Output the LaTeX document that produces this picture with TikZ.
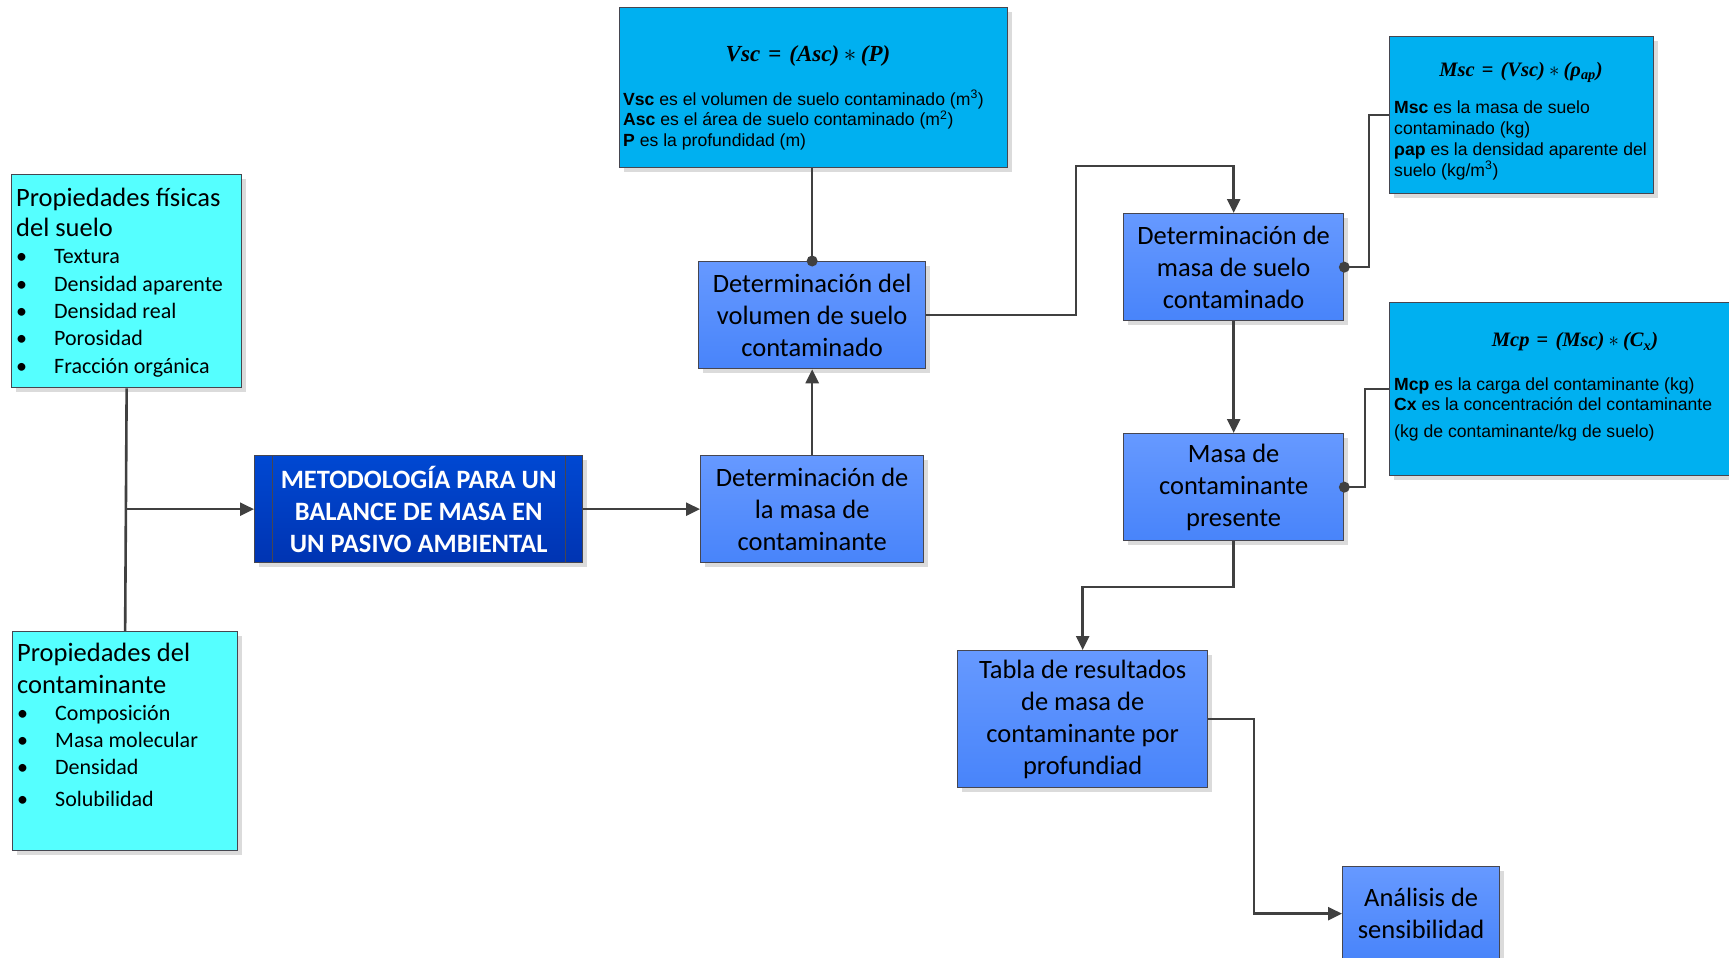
\documentclass[tikz,border=0pt]{standalone}
\usepackage{fontspec}
\setmainfont{Carlito}
\newfontfamily\arialf{Liberation Sans}
\newfontfamily\cambf{Liberation Serif}
\usetikzlibrary{arrows.meta,shadows}
\definecolor{cy}{RGB}{85,255,255}
\definecolor{fb}{RGB}{0,176,240}
\definecolor{bt}{RGB}{102,153,255}
\definecolor{bb}{RGB}{72,132,250}
\definecolor{dt}{RGB}{0,72,210}
\definecolor{db}{RGB}{0,52,178}
\definecolor{ln}{RGB}{64,64,64}
\definecolor{bd}{RGB}{70,70,80}
\tikzset{
  box/.style={draw=bd, line width=1.3pt, anchor=north west, inner sep=0pt,
    drop shadow={shadow xshift=4pt, shadow yshift=-4pt, fill=black!14, opacity=1}},
  cybox/.style={box, fill=cy},
  fbox/.style={box, fill=fb},
  bbox/.style={box, top color=bt, bottom color=bb, align=center, font=\fontsize{26.5}{32}\selectfont},
  dbox/.style={box, top color=dt, bottom color=db, align=center, text=white, font=\bfseries\fontsize{26.5}{32}\selectfont},
  conn/.style={draw=ln, line width=2.6pt},
  arr/.style={conn, -{Triangle[length=14pt,width=13pt]}},
  arialtxt/.style={anchor=base west, inner sep=0pt, align=left, font=\arialf\fontsize{17.6}{20.5}\selectfont},
  formula/.style={inner sep=0pt, anchor=center, font=\cambf\bfseries\itshape\fontsize{20.5}{24}\selectfont},
  titletxt/.style={anchor=base west, inner sep=0pt, align=left},
  bul/.style={anchor=base west, inner sep=0pt, align=left, font=\fontsize{22}{27.3}\selectfont}
}
\newcommand{\bitem}[1]{\makebox[38pt][l]{\textbullet}#1}
\newcommand{\fmul}{\hspace{0.2em}{\upshape$*$}\hspace{0.2em}}
\newcommand{\feq}{\hspace{0.35em}{\upshape=}\hspace{0.35em}}
\begin{document}
\begin{tikzpicture}[x=1pt,y=-1pt]
\useasboundingbox (0,0) rectangle (1729,958);
\fill[white] (0,0) rectangle (1729,958);

% formula boxes (text nodes anchored at the baseline of their last line)
\node[fbox, minimum width=388pt, minimum height=160pt] (vsc) at (619,7) {};
\node[formula, font=\cambf\bfseries\itshape\fontsize{23}{28}\selectfont] (vscF) at (808,56) {Vsc\feq(Asc)\fmul(P)};
\node[arialtxt] (vscT) at (623,146) {\textbf{Vsc} es el volumen de suelo contaminado (m\textsuperscript{3})\\
\textbf{Asc} es el área de suelo contaminado (m\textsuperscript{2})\\
\textbf{P} es la profundidad (m)};

\node[fbox, minimum width=264pt, minimum height=157pt] (msc) at (1389,36) {};
\node[formula] (mscF) at (1521,72) {Msc\feq(Vsc)\fmul(ρ\textsubscript{ap})};
\node[arialtxt, font=\arialf\fontsize{17.6}{21}\selectfont] (mscT) at (1394,176) {\textbf{Msc} es la masa de suelo\\
contaminado (kg)\\
\textbf{ρap} es la densidad aparente del\\
suelo (kg/m\textsuperscript{3})};

\node[fbox, minimum width=372pt, minimum height=173pt] (mcp) at (1389,302) {};
\node[formula] (mcpF) at (1575,342) {Mcp\feq(Msc)\fmul(C\textsubscript{x})};
\node[arialtxt] (mcpT) at (1394,437.5) {\textbf{Mcp} es la carga del contaminante (kg)\\
\textbf{Cx} es la concentración del contaminante\\[6.5pt]
(kg de contaminante/kg de suelo)};

% property boxes
\node[cybox, minimum width=230pt, minimum height=213pt] (fis) at (11,174) {};
\node[titletxt, font=\fontsize{26.5}{30}\selectfont] (fisT) at (16,236) {Propiedades físicas\\del suelo};
\node[bul] (fisL) at (16,373) {\bitem{Textura}\\\bitem{Densidad aparente}\\\bitem{Densidad real}\\\bitem{Porosidad}\\\bitem{Fracción orgánica}};

\node[cybox, minimum width=225pt, minimum height=219pt] (cont) at (12,631) {};
\node[titletxt, font=\fontsize{26.5}{32}\selectfont] (contT) at (17,693) {Propiedades del\\contaminante};
\node[bul] (contL) at (17,806) {\bitem{Composición}\\\bitem{Masa molecular}\\\bitem{Densidad}\\[4pt]\bitem{Solubilidad}};

% main boxes
\node[dbox, minimum width=328pt, minimum height=107pt] (met) at (254,455) {METODOLOGÍA PARA UN\\BALANCE DE MASA EN\\UN PASIVO AMBIENTAL};
\draw[draw=bd, line width=1pt] ([xshift=18pt]met.north west) -- ([xshift=18pt]met.south west);
\draw[draw=bd, line width=1pt] ([xshift=-18pt]met.north east) -- ([xshift=-18pt]met.south east);

\node[bbox, minimum width=223pt, minimum height=107pt] (mas) at (700,455) {Determinación de\\la masa de\\contaminante};
\node[bbox, minimum width=227pt, minimum height=107pt] (vol) at (698,261) {Determinación del\\volumen de suelo\\contaminado};
\node[bbox, minimum width=220pt, minimum height=107pt] (suelo) at (1123,213) {Determinación de\\masa de suelo\\contaminado};
\node[bbox, minimum width=220pt, minimum height=107pt] (pres) at (1123,433) {Masa de\\contaminante\\presente};
\node[bbox, minimum width=250pt, minimum height=137pt] (tab) at (957,650) {Tabla de resultados\\de masa de\\contaminante por\\profundiad};
\node[bbox, minimum width=157pt, minimum height=94pt] (ana) at (1342,866) {Análisis de\\sensibilidad};

% connectors
\draw[conn] (fis.south) -- (cont.north);
\draw[arr] (fis.south |- met.west) -- (met.west);
\draw[arr] (met.east) -- (mas.west);
\draw[arr] (mas.north) -- (vol.south);
\draw[conn] (vol.north |- vsc.south) -- (vol.north);
\fill[ln] (vol.north) circle (5.5pt);

\coordinate (k1) at (1076,166);
\draw[arr] (vol.east) -| (k1) -| (suelo.north);

\coordinate (k2) at (1369,0);
\draw[conn] (suelo.east) -| (k2 |- msc.west) -- (msc.west);
\fill[ln] (suelo.east) circle (5.5pt);

\draw[arr] (suelo.south) -- (pres.north);

\coordinate (k3) at (1365,0);
\draw[conn] (pres.east) -| (k3 |- mcp.west) -- (mcp.west);
\fill[ln] (pres.east) circle (5.5pt);

\coordinate (k4) at (0,587);
\draw[arr] (pres.south) |- (k4 -| tab.north) -- (tab.north);

\coordinate (k5) at (1254,0);
\draw[arr] (tab.east) -| (k5 |- ana.west) -- (ana.west);
\end{tikzpicture}
\end{document}
